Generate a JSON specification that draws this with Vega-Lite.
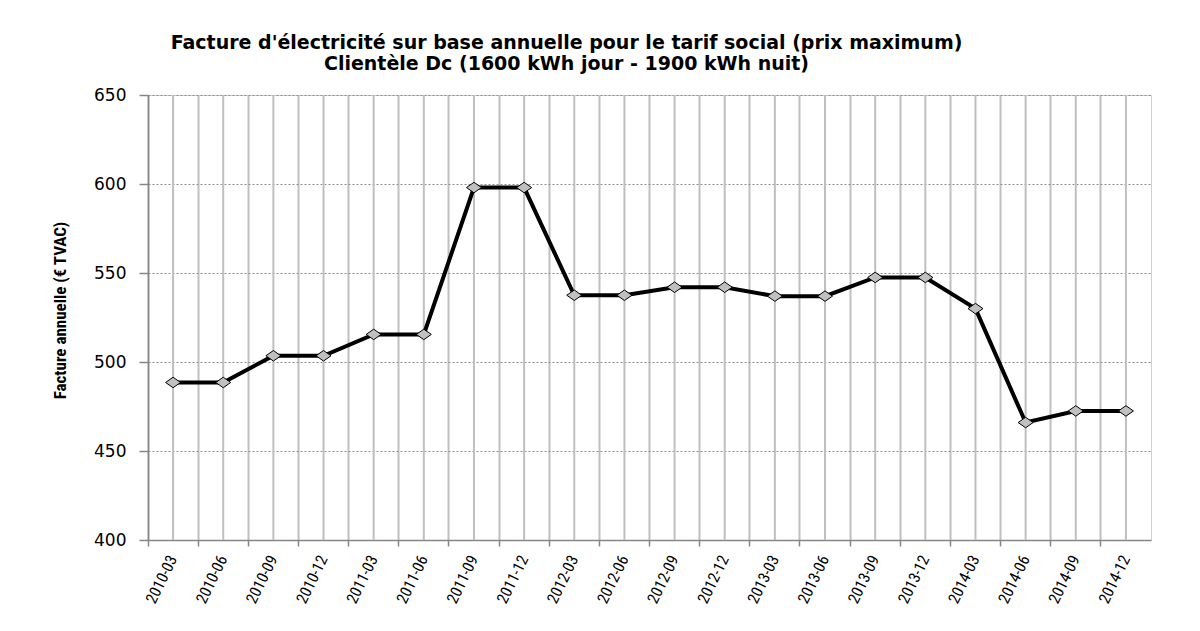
{
  "$schema": "https://vega.github.io/schema/vega-lite/v6.json",
  "width": 1003,
  "height": 445,
  "autosize": {"type": "none"},
  "padding": {"left": 148, "top": 95, "right": 49, "bottom": 91},
  "background": "white",
  "title": {
    "text": ["Facture d'électricité sur base annuelle pour le tarif social (prix maximum)", "Clientèle Dc (1600 kWh jour - 1900 kWh nuit)"],
    "font": "DejaVu Sans",
    "fontSize": 19,
    "fontWeight": "bold",
    "color": "#000000",
    "anchor": "middle",
    "dx": -83,
    "offset": 12,
    "lineHeight": 21
  },
  "config": {"view": {"stroke": "#d0d0d0", "strokeWidth": 1}},
  "data": {
    "values": [
      {"mois": "2010-03", "facture": 488.5},
      {"mois": "2010-06", "facture": 488.5},
      {"mois": "2010-09", "facture": 503.5},
      {"mois": "2010-12", "facture": 503.5},
      {"mois": "2011-03", "facture": 515.5},
      {"mois": "2011-06", "facture": 515.5},
      {"mois": "2011-09", "facture": 598},
      {"mois": "2011-12", "facture": 598},
      {"mois": "2012-03", "facture": 537.5},
      {"mois": "2012-06", "facture": 537.5},
      {"mois": "2012-09", "facture": 542},
      {"mois": "2012-12", "facture": 542},
      {"mois": "2013-03", "facture": 537},
      {"mois": "2013-06", "facture": 537},
      {"mois": "2013-09", "facture": 547.5},
      {"mois": "2013-12", "facture": 547.5},
      {"mois": "2014-03", "facture": 530},
      {"mois": "2014-06", "facture": 466},
      {"mois": "2014-09", "facture": 472.5},
      {"mois": "2014-12", "facture": 472.5}
    ]
  },
  "layer": [
    {
      "mark": {"type": "rule", "color": "#bfbfbf", "strokeWidth": 2},
      "encoding": {
        "x": {
          "field": "mois",
          "type": "ordinal",
          "sort": null,
          "bandPosition": 0.5,
          "scale": {"type": "band", "paddingInner": 0, "paddingOuter": 0},
          "axis": {
            "title": null,
            "bandPosition": 0,
            "grid": true,
            "gridColor": "#bfbfbf",
            "gridWidth": 2,
            "ticks": true,
            "tickSize": 6,
            "tickColor": "#868686",
            "tickWidth": 1.5,
            "domainColor": "#868686",
            "domainWidth": 1.5,
            "labelAngle": -64,
            "labelAlign": "right",
            "labelBaseline": "middle",
            "labelPadding": 10,
            "labelOverlap": false,
            "labelBound": false,
            "labelFont": "Liberation Sans Narrow, Roboto Condensed, Roboto, sans-serif",
            "labelFontSize": 16,
            "labelColor": "#000000"
          }
        }
      }
    },
    {
      "mark": {"type": "line", "color": "#000000", "strokeWidth": 4},
      "encoding": {
        "x": {"field": "mois", "type": "ordinal", "sort": null, "bandPosition": 0.5},
        "y": {
          "field": "facture",
          "type": "quantitative",
          "scale": {"domain": [400, 650], "nice": false, "zero": false},
          "axis": {
            "title": "Facture annuelle (€ TVAC)",
            "titleY": 215,
            "values": [400, 450, 500, 550, 600, 650],
            "grid": true,
            "gridColor": "#8c8c8c",
            "gridDash": [2, 2],
            "gridWidth": 1,
            "tickSize": 9,
            "tickColor": "#868686",
            "tickWidth": 1.5,
            "domainColor": "#868686",
            "domainWidth": 1.5,
            "labelFont": "DejaVu Sans",
            "labelFontSize": 17,
            "labelColor": "#000000",
            "labelPadding": 13,
            "titleFont": "Liberation Sans Narrow, Roboto Condensed, Roboto, sans-serif",
            "titleFontSize": 17,
            "titleFontWeight": "bold",
            "titleColor": "#000000",
            "titlePadding": 24
          }
        }
      }
    },
    {
      "mark": {"type": "point", "shape": "M-1,0L0,-0.7L1,0L0,0.7Z", "filled": true, "fill": "#c0c0c0", "stroke": "#000000", "strokeWidth": 1, "size": 225, "opacity": 1},
      "encoding": {
        "x": {"field": "mois", "type": "ordinal", "sort": null, "bandPosition": 0.5},
        "y": {"field": "facture", "type": "quantitative"}
      }
    }
  ]
}
